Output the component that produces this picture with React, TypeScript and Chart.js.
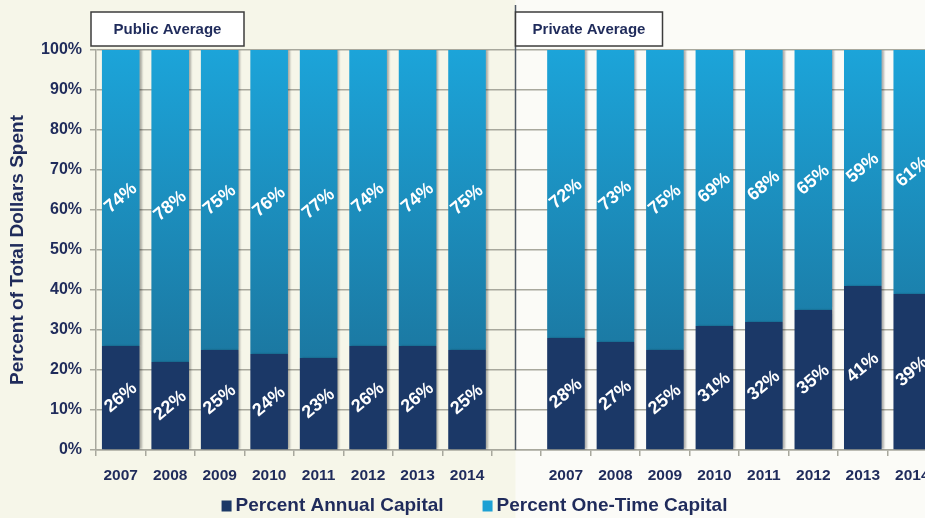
import React, { useEffect, useRef } from 'react';
import { Chart, registerables } from 'chart.js';
Chart.register(...registerables);

const years = ['2007', '2008', '2009', '2010', '2011', '2012', '2013', '2014'];
const categories = [...years, '', ...years];
const publicAnnual = [26, 22, 25, 24, 23, 26, 26, 25];
const publicOneTime = [74, 78, 75, 76, 77, 74, 74, 75];
const privateAnnual = [28, 27, 25, 31, 32, 35, 41, 39];
const privateOneTime = [72, 73, 75, 69, 68, 65, 59, 61];
const panelTitles = ['Public Average', 'Private Average'];
const seriesNames = ['Percent Annual Capital', 'Percent One-Time Capital'];
const yAxisTitle = 'Percent of Total Dollars Spent';
const yTickValues = [0, 10, 20, 30, 40, 50, 60, 70, 80, 90, 100];

const annualData = [...publicAnnual, null, ...privateAnnual];
const oneTimeData = [...publicOneTime, null, ...privateOneTime];
const gapIndex = years.length;

const FONT = "'Liberation Sans', Arial, sans-serif";
const NAVY = '#1f2b5b';
const GRID = '#a8a89d';
const ANNUAL = '#1b3867';
const ONE_TOP = '#1ca4d9';
const ONE_BOTTOM = '#1b6b91';

const W = 945;
const H = 518;

function oneTimeFill(ctx: any) {
  const chart = ctx.chart;
  const area = chart.chartArea;
  if (!area) return ONE_TOP;
  const g = chart.ctx.createLinearGradient(0, area.top, 0, area.bottom);
  g.addColorStop(0, ONE_TOP);
  g.addColorStop(1, ONE_BOTTOM);
  return g;
}

const bgPlugin = {
  id: 'bgPlugin',
  beforeDraw(chart: any) {
    const { ctx } = chart;
    const x = chart.scales.x.getPixelForValue(gapIndex) - 1;
    ctx.save();
    ctx.fillStyle = '#f6f6e9';
    ctx.fillRect(0, 0, chart.width, chart.height);
    ctx.fillStyle = '#fbfbf7';
    ctx.fillRect(x, 0, chart.width - x, chart.height);
    ctx.restore();
  },
};

const shadowPlugin = {
  id: 'shadowPlugin',
  beforeDatasetsDraw(chart: any) {
    const { ctx } = chart;
    ctx.save();
    ctx.shadowColor = 'rgba(0,0,0,0.3)';
    ctx.shadowOffsetX = 2;
    ctx.shadowOffsetY = 0;
    ctx.shadowBlur = 2;
  },
  afterDatasetsDraw(chart: any) {
    chart.ctx.restore();
  },
};

const labelPlugin = {
  id: 'labelPlugin',
  afterDatasetsDraw(chart: any) {
    const { ctx } = chart;
    ctx.save();
    ctx.fillStyle = '#ffffff';
    ctx.font = `bold 18px ${FONT}`;
    ctx.textAlign = 'center';
    ctx.textBaseline = 'middle';
    chart.data.datasets.forEach((ds: any, di: number) => {
      const meta = chart.getDatasetMeta(di);
      meta.data.forEach((el: any, i: number) => {
        const v = ds.data[i];
        if (v == null) return;
        const cx = el.x;
        const cy = (el.y + el.base) / 2;
        ctx.save();
        ctx.translate(cx, cy);
        ctx.rotate((-40 * Math.PI) / 180);
        ctx.fillText(`${v}%`, 0, 0);
        ctx.restore();
      });
    });
    ctx.restore();
  },
};

const overlayPlugin = {
  id: 'overlayPlugin',
  afterDraw(chart: any) {
    const { ctx, chartArea } = chart;
    const xs = chart.scales.x;
    const dx = xs.getPixelForValue(gapIndex) - 1;
    ctx.save();
    ctx.strokeStyle = '#4f5a66';
    ctx.lineWidth = 1.5;
    ctx.beginPath();
    ctx.moveTo(dx, 5);
    ctx.lineTo(dx, chartArea.bottom);
    ctx.stroke();

    const boxes = [
      { x: chartArea.left - 5, w: 153, text: panelTitles[0] },
      { x: dx, w: 147, text: panelTitles[1] },
    ];
    boxes.forEach((b) => {
      ctx.fillStyle = '#ffffff';
      ctx.fillRect(b.x, 12, b.w, 34);
      ctx.strokeStyle = '#3c3c3c';
      ctx.lineWidth = 1.5;
      ctx.strokeRect(b.x, 12, b.w, 34);
      ctx.fillStyle = NAVY;
      ctx.font = `bold 15px ${FONT}`;
      ctx.textAlign = 'center';
      ctx.textBaseline = 'middle';
      ctx.fillText(b.text, b.x + b.w / 2, 30);
    });

    ctx.font = `bold 19px ${FONT}`;
    ctx.textBaseline = 'middle';
    ctx.textAlign = 'left';
    const boxW = 10;
    const boxGap = 4;
    const itemGap = 39;
    const colors = [ANNUAL, '#1ca0d4'];
    const widths = seriesNames.map((s) => boxW + boxGap + ctx.measureText(s).width);
    const total = widths.reduce((a, b) => a + b, 0) + itemGap * (seriesNames.length - 1);
    let x = 474.5 - total / 2;
    const ly = 506;
    seriesNames.forEach((s, i) => {
      ctx.fillStyle = colors[i];
      ctx.fillRect(x, ly - 5.5, boxW, 11);
      ctx.fillStyle = NAVY;
      ctx.fillText(s, x + boxW + boxGap, ly);
      x += widths[i] + itemGap;
    });
    ctx.restore();
  },
};

export default function App() {
  const ref = useRef<HTMLCanvasElement | null>(null);
  useEffect(() => {
    if (!ref.current) return;
    const chart = new Chart(ref.current, {
      type: 'bar',
      data: {
        labels: categories,
        datasets: [
          {
            label: seriesNames[0],
            data: annualData as any,
            backgroundColor: ANNUAL,
            borderWidth: 0,
            barPercentage: 0.76,
            categoryPercentage: 1,
          },
          {
            label: seriesNames[1],
            data: oneTimeData as any,
            backgroundColor: oneTimeFill as any,
            borderWidth: 0,
            barPercentage: 0.76,
            categoryPercentage: 1,
          },
        ],
      },
      options: {
        responsive: false,
        animation: false,
        layout: { padding: { top: 50, left: 0, right: W - 937, bottom: 0 } },
        plugins: {
          legend: { display: false },
          tooltip: { enabled: false },
          title: { display: false },
        },
        scales: {
          x: {
            stacked: true,
            afterFit: (s: any) => {
              s.height = 68;
            },
            grid: {
              drawOnChartArea: false,
              drawTicks: true,
              tickLength: 6,
              color: GRID,
              lineWidth: 1.5,
              offset: true,
            },
            border: { display: true, color: GRID, width: 1.5 },
            ticks: {
              color: NAVY,
              font: { family: FONT, size: 15.5, weight: 'bold' },
              padding: 10,
              maxRotation: 0,
              autoSkip: false,
            },
          },
          y: {
            stacked: true,
            min: 0,
            max: 100,
            afterFit: (s: any) => {
              s.width = 96;
            },
            afterBuildTicks: (s: any) => {
              s.ticks = yTickValues.map((v) => ({ value: v }));
            },
            grid: {
              color: GRID,
              lineWidth: 1.5,
              tickLength: 6,
            },
            border: { display: true, color: GRID, width: 1.5 },
            ticks: {
              color: NAVY,
              font: { family: FONT, size: 16, weight: 'bold' },
              padding: 8,
              callback: (v: any) => `${v}%`,
            },
            title: {
              display: true,
              text: yAxisTitle,
              color: NAVY,
              font: { family: FONT, size: 19, weight: 'bold' },
              padding: { top: 6, bottom: 0 },
            },
          },
        },
      },
      plugins: [bgPlugin, shadowPlugin, labelPlugin, overlayPlugin],
    });
    return () => chart.destroy();
  }, []);

  return (
    <div
      style={{
        position: 'fixed',
        left: 0,
        top: 0,
        width: 925,
        height: 518,
        overflow: 'hidden',
        background: '#f6f6e9',
      }}
    >
      <canvas ref={ref} width={W} height={H} style={{ width: W, height: H, display: 'block' }} />
    </div>
  );
}
